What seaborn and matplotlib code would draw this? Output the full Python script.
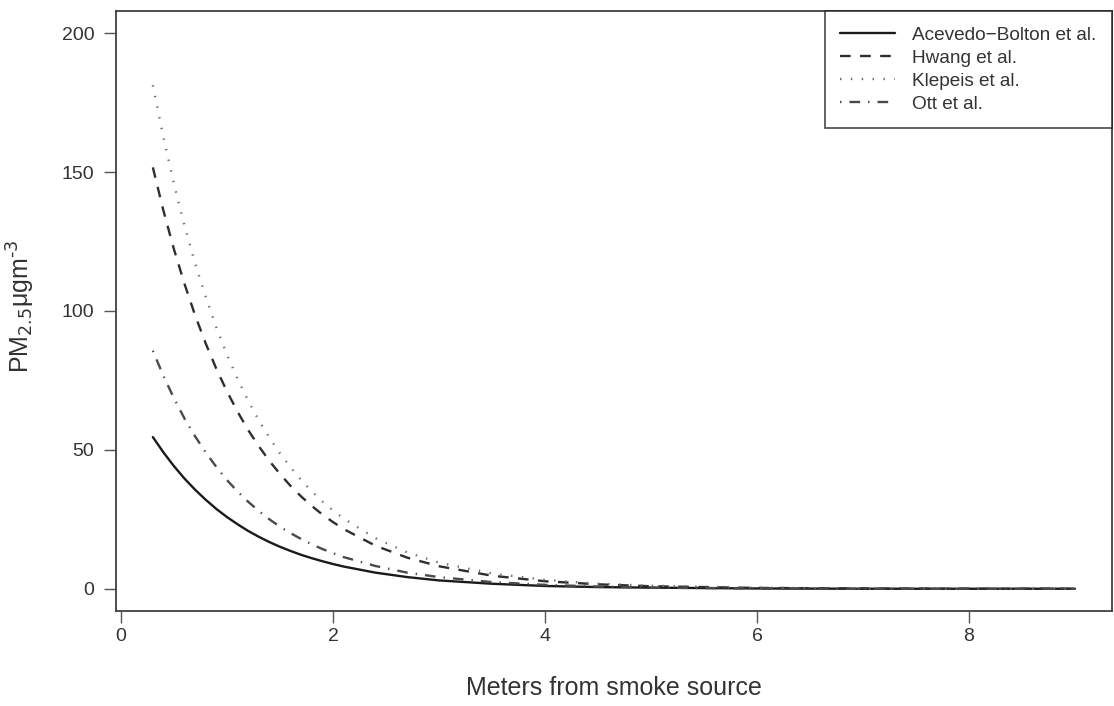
import pandas as pd
import matplotlib
matplotlib.use('Agg')
import matplotlib.pyplot as plt
import seaborn as sns

# distancia da fonte de fumaça (m) e PM2.5
distancia = [0.3, 0.4, 0.5, 0.6, 0.7, 0.8, 0.9, 1.0, 1.1, 1.2, 1.3, 1.4, 1.5,
             1.6, 1.7, 1.8, 1.9, 2.0, 2.1, 2.4, 2.7, 3.0, 3.5, 4.0, 4.5,
             5.0, 6.0, 7.0, 8.0, 9.0]

acevedo = [54.6, 49.1, 44.1, 39.6, 35.6, 32.0, 28.7, 25.8, 23.2, 20.8, 18.7, 16.8, 15.1,
           13.6, 12.2, 11.0, 9.9, 8.9, 8.0, 5.8, 4.2, 3.0, 1.8, 1.0, 0.6,
           0.4, 0.1, 0.0, 0.0, 0.0]
hwang = [151.7, 136.1, 122.1, 109.6, 98.3, 88.2, 79.1, 71.0, 63.7, 57.1, 51.3, 46.0, 41.3,
         37.0, 33.2, 29.8, 26.7, 24.0, 21.5, 15.5, 11.2, 8.1, 4.7, 2.7, 1.6,
         0.9, 0.3, 0.1, 0.0, 0.0]
klepeis = [181.3, 162.5, 145.6, 130.5, 117.0, 104.9, 94.0, 84.2, 75.5, 67.7, 60.6, 54.4, 48.7,
           43.7, 39.1, 35.1, 31.4, 28.2, 25.3, 18.2, 13.1, 9.4, 5.5, 3.2, 1.8,
           1.1, 0.4, 0.1, 0.0, 0.0]
ott = [85.7, 76.6, 68.5, 61.2, 54.8, 49.0, 43.8, 39.1, 35.0, 31.3, 28.0, 25.0, 22.3,
       20.0, 17.9, 16.0, 14.3, 12.8, 11.4, 8.2, 5.8, 4.2, 2.4, 1.4, 0.8,
       0.4, 0.1, 0.0, 0.0, 0.0]

estudos = ['Acevedo\u2212Bolton et al.', 'Hwang et al.', 'Klepeis et al.', 'Ott et al.']
series = [acevedo, hwang, klepeis, ott]

# tabela longa para o seaborn
linhas = []
for nome, valores in zip(estudos, series):
    for d, v in zip(distancia, valores):
        linhas.append({'dist': d, 'pm': v, 'estudo': nome})
df = pd.DataFrame(linhas)

sns.set_theme(style='white')
plt.rcParams['font.family'] = ['Liberation Sans', 'DejaVu Sans']

cores = {estudos[0]: '#1a1a1a', estudos[1]: '#2e2e2e',
         estudos[2]: '#6e6e6e', estudos[3]: '#4a4a4a'}
tracos = {estudos[0]: '', estudos[1]: (4.5, 4.0),
          estudos[2]: (0.6, 4.0), estudos[3]: (0.6, 3.4, 4.5, 3.4)}

fig = plt.figure(figsize=(11.14, 7.06), dpi=100)
ax = fig.add_axes([0.1041, 0.1346, 0.998 - 0.1041, 0.9844 - 0.1346])

sns.lineplot(data=df, x='dist', y='pm', hue='estudo', style='estudo',
             palette=cores, dashes=tracos, linewidth=1.7, ax=ax)

ax.set_xlim(-0.048, 9.348)
ax.set_ylim(-8, 208)
ax.set_xticks([0, 2, 4, 6, 8])
ax.set_yticks([0, 50, 100, 150, 200])

for s in ax.spines.values():
    s.set_visible(True)
    s.set_color('#404040')
    s.set_linewidth(1.3)

ax.tick_params(axis='both', direction='out', length=8.5, width=1.0,
               color='#555555', labelsize=14, labelcolor='#333333')
ax.tick_params(axis='x', pad=4)
ax.tick_params(axis='y', pad=7)
ax.tick_params(bottom=True, left=True)

ax.set_xlabel('Meters from smoke source', fontsize=18, color='#333333', labelpad=22)
ax.set_ylabel('PM$_{2.5}$\u03bcgm$^{\\text{-}3}$', fontsize=18, color='#333333')
ax.yaxis.set_label_coords(-0.079, 0.508)

leg = ax.legend(loc='upper right', fontsize=13.7, frameon=True, fancybox=False,
                borderaxespad=0, handlelength=2.9, handletextpad=0.9,
                labelspacing=0.3, borderpad=0.8, title=None)
leg.get_frame().set_edgecolor('#1a1a1a')
leg.get_frame().set_linewidth(1.2)
for t in leg.get_texts():
    t.set_color('#333333')

fig.savefig('out.png', dpi=100, facecolor='white')
